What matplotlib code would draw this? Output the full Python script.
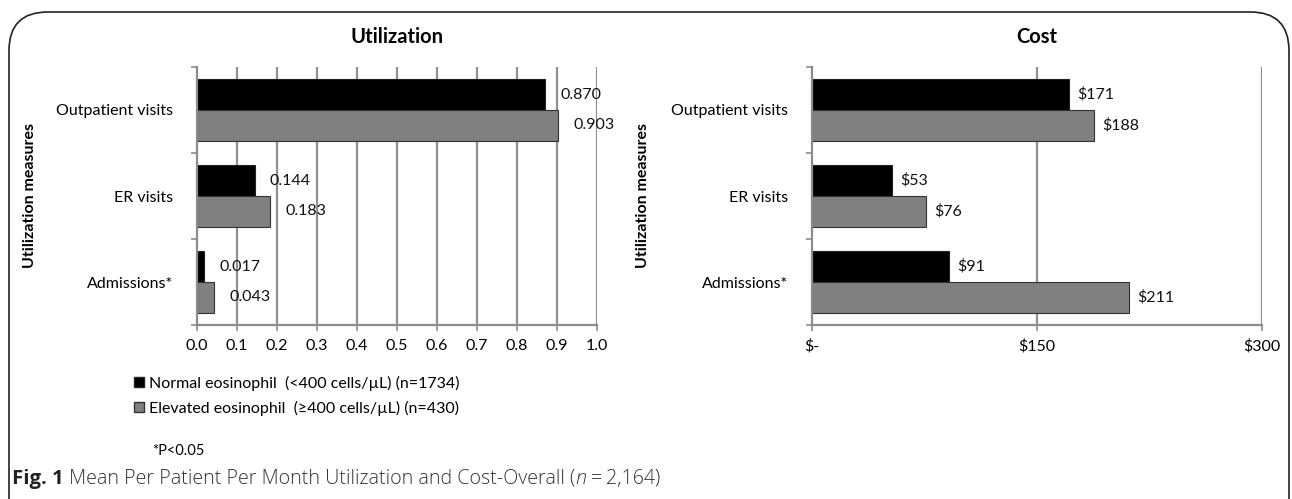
import numpy as np
import matplotlib.pyplot as plt
from matplotlib.lines import Line2D
from matplotlib.patches import FancyBboxPatch

# data
categories = ['Outpatient visits', 'ER visits', 'Admissions*']
util_normal = [0.870, 0.144, 0.017]
util_elevated = [0.903, 0.183, 0.043]
cost_normal = [171, 53, 91]
cost_elevated = [188, 76, 211]
util_ticks = [0.0, 0.1, 0.2, 0.3, 0.4, 0.5, 0.6, 0.7, 0.8, 0.9, 1.0]
cost_ticks = [0, 150, 300]
cost_ticklabels = ['$-', '$150', '$300']
legend_labels = ['Normal eosinophil  (<400 cells/\u00b5L) (n=1734)',
                 'Elevated eosinophil  (\u2265400 cells/\u00b5L) (n=430)']

plt.rcParams['font.family'] = ['Lato', 'DejaVu Sans']
W, H = 1292, 499
fig = plt.figure(figsize=(W / 100, H / 100), dpi=100)

BLACK = '#000000'
GRAY = '#808080'
AXC = '#8c8c8c'
bh = 0.36
y = np.arange(len(categories))


def draw_panel(ax, vals, xlim, ticks, ticklabels, fmt, off):
    ax.barh(y - bh / 2, vals[0], height=bh, color=BLACK, edgecolor='#222222', linewidth=0.8)
    ax.barh(y + bh / 2, vals[1], height=bh, color=GRAY, edgecolor='#333333', linewidth=0.8)
    for i in range(len(categories)):
        for v, yy in ((vals[0][i], y[i] - bh / 2), (vals[1][i], y[i] + bh / 2)):
            ax.annotate(fmt(v), (v, yy), xytext=(off, 0), textcoords='offset points',
                        va='center', ha='left', fontsize=11.5, color='#111111')
    ax.set_xlim(*xlim)
    ax.set_ylim(2.5, -0.5)
    ax.set_xticks(ticks)
    ax.set_xticklabels(ticklabels, fontsize=11.5)
    for g in ticks[1:]:
        ax.axvline(g, color='#909090', lw=1.6, zorder=0)
    ax.set_yticks(y)
    ax.set_yticklabels(categories, fontsize=11.5)
    ax.set_yticks([-0.5, 0.5, 1.5, 2.5], minor=True)
    ax.tick_params(axis='y', which='major', length=0, pad=17)
    ax.tick_params(axis='y', which='minor', length=4, color=AXC, width=1.2)
    ax.tick_params(axis='x', length=4, color=AXC, width=1.2, pad=6)
    for s in ('top', 'right'):
        ax.spines[s].set_visible(False)
    for s in ('left', 'bottom'):
        ax.spines[s].set_color(AXC)
        ax.spines[s].set_linewidth(1.6)
    ax.set_ylabel('Utilization measures', fontsize=11.5, fontweight='bold')


ax1 = fig.add_axes([197 / W, 1 - 325 / H, 400 / W, 258 / H])
ax2 = fig.add_axes([812 / W, 1 - 325 / H, 450 / W, 258 / H])

draw_panel(ax1, (util_normal, util_elevated), (0, 1.0), util_ticks,
           ['%.1f' % t for t in util_ticks], lambda v: '%.3f' % v, 11)
draw_panel(ax2, (cost_normal, cost_elevated), (0, 300), cost_ticks,
           cost_ticklabels, lambda v: '$%d' % v, 6)

ax1.yaxis.set_label_coords(37 / W, 1 - 196 / H, transform=fig.transFigure)
ax2.yaxis.set_label_coords(650 / W, 1 - 196 / H, transform=fig.transFigure)

fig.text(397 / W, 1 - 37 / H, 'Utilization', ha='center', va='center', fontsize=14.5, fontweight='bold')
fig.text(1037 / W, 1 - 37 / H, 'Cost', ha='center', va='center', fontsize=14.5, fontweight='bold')

handles = [Line2D([], [], marker='s', ls='', markersize=7.5, markerfacecolor=BLACK, markeredgecolor='#222222'),
           Line2D([], [], marker='s', ls='', markersize=7.5, markerfacecolor=GRAY, markeredgecolor='#333333')]
fig.legend(handles, legend_labels, loc='upper left', bbox_to_anchor=(134 / W, 1 - 376 / H),
           frameon=False, fontsize=11.5, handlelength=0.6, handletextpad=0.35, labelspacing=0.6,
           borderaxespad=0, borderpad=0)

fig.text(152 / W, 1 - 451 / H, '*P<0.05', ha='left', va='center', fontsize=10.5)

# caption, pieces chained one after another
cap_fs = 14.1
t1 = fig.text(12 / W, 1 - 484 / H, 'Fig. 1', ha='left', va='baseline', fontsize=cap_fs + 0.6,
              family=['Open Sans'], fontweight='bold', color='#222222')
t2 = fig.text(0, 0, ' Mean Per Patient Per Month Utilization and Cost-Overall (', fontsize=cap_fs,
              family=['Open Sans'], fontweight='light', color='#333333')
t3 = fig.text(0, 0, 'n', fontsize=cap_fs, family=['Open Sans'], fontweight='light',
              style='italic', color='#333333')
t4 = fig.text(0, 0, '\u2009=\u20092,164)', fontsize=cap_fs, family=['Open Sans', 'DejaVu Sans'],
              fontweight='light', color='#333333')
fig.canvas.draw()
r = fig.canvas.get_renderer()
x = t1.get_window_extent(r).x1
for t in (t2, t3, t4):
    t.set_position((x / W, 1 - 484 / H))
    t.set_va('baseline')
    x = t.get_window_extent(r).x1 + (1 if t is t3 else 0)

box = FancyBboxPatch((9 / W, -0.2), 1280 / W, (1 - 12 / H) + 0.2,
                     boxstyle='round,pad=0,rounding_size=0.03', transform=fig.transFigure,
                     fill=False, edgecolor='#222222', linewidth=1.2, mutation_aspect=W / H)
fig.patches.append(box)

fig.savefig('out.png', dpi=100)
